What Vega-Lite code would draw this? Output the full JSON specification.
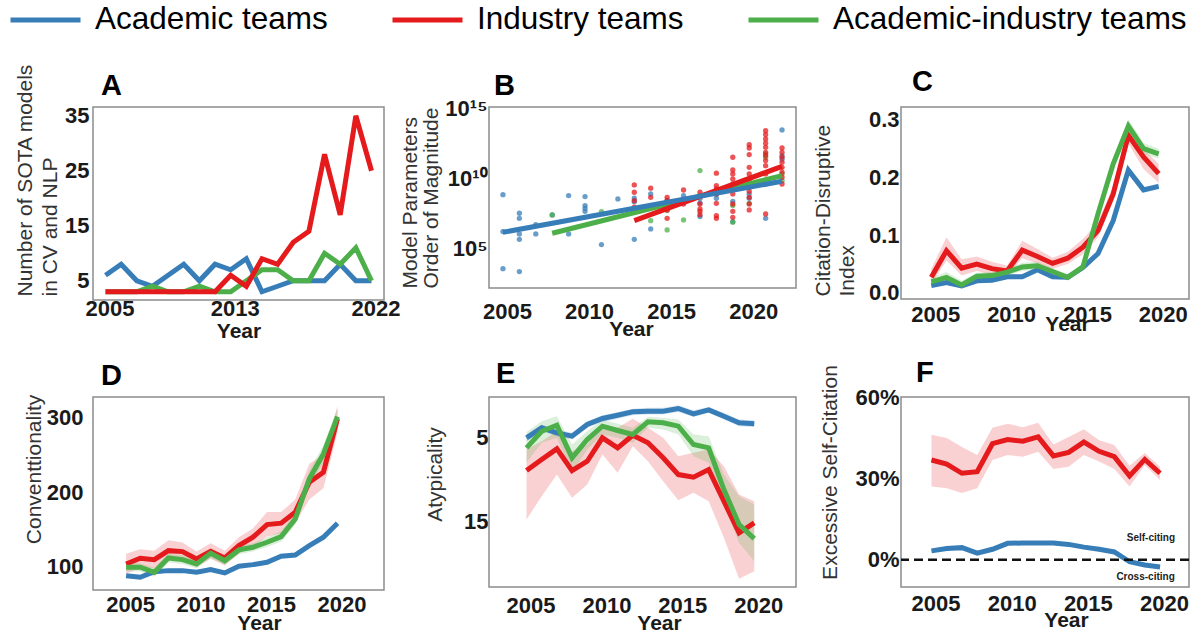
{
"$schema": "https://vega.github.io/schema/vega-lite/v6.json",
"padding": {"left": 8, "top": 0, "right": 2, "bottom": 2},
"background": "white",
"datasets": {
"A": [
{"team":"Academic teams","year":2005,"v":6},{"team":"Academic teams","year":2006,"v":8},{"team":"Academic teams","year":2007,"v":5},{"team":"Academic teams","year":2008,"v":4},{"team":"Academic teams","year":2009,"v":6},{"team":"Academic teams","year":2010,"v":8},{"team":"Academic teams","year":2011,"v":5},{"team":"Academic teams","year":2012,"v":8},{"team":"Academic teams","year":2013,"v":7},{"team":"Academic teams","year":2014,"v":9},{"team":"Academic teams","year":2015,"v":3},{"team":"Academic teams","year":2016,"v":4},{"team":"Academic teams","year":2017,"v":5},{"team":"Academic teams","year":2018,"v":5},{"team":"Academic teams","year":2019,"v":5},{"team":"Academic teams","year":2020,"v":8},{"team":"Academic teams","year":2021,"v":5},{"team":"Academic teams","year":2022,"v":5},
{"team":"Academic-industry teams","year":2005,"v":3},{"team":"Academic-industry teams","year":2006,"v":3},{"team":"Academic-industry teams","year":2007,"v":3},{"team":"Academic-industry teams","year":2008,"v":4},{"team":"Academic-industry teams","year":2009,"v":3},{"team":"Academic-industry teams","year":2010,"v":3},{"team":"Academic-industry teams","year":2011,"v":4},{"team":"Academic-industry teams","year":2012,"v":3},{"team":"Academic-industry teams","year":2013,"v":3},{"team":"Academic-industry teams","year":2014,"v":5},{"team":"Academic-industry teams","year":2015,"v":7},{"team":"Academic-industry teams","year":2016,"v":7},{"team":"Academic-industry teams","year":2017,"v":5},{"team":"Academic-industry teams","year":2018,"v":5},{"team":"Academic-industry teams","year":2019,"v":10},{"team":"Academic-industry teams","year":2020,"v":8},{"team":"Academic-industry teams","year":2021,"v":11},{"team":"Academic-industry teams","year":2022,"v":5},
{"team":"Industry teams","year":2005,"v":3},{"team":"Industry teams","year":2006,"v":3},{"team":"Industry teams","year":2007,"v":3},{"team":"Industry teams","year":2008,"v":3},{"team":"Industry teams","year":2009,"v":3},{"team":"Industry teams","year":2010,"v":3},{"team":"Industry teams","year":2011,"v":3},{"team":"Industry teams","year":2012,"v":3},{"team":"Industry teams","year":2013,"v":6},{"team":"Industry teams","year":2014,"v":4},{"team":"Industry teams","year":2015,"v":9},{"team":"Industry teams","year":2016,"v":8},{"team":"Industry teams","year":2017,"v":12},{"team":"Industry teams","year":2018,"v":14},{"team":"Industry teams","year":2019,"v":28},{"team":"Industry teams","year":2020,"v":17},{"team":"Industry teams","year":2021,"v":35},{"team":"Industry teams","year":2022,"v":25}
],
"Bpts": [
{"team":"Academic teams","year":2005,"e":8.88},{"team":"Academic teams","year":2005,"e":6.24},{"team":"Academic teams","year":2005,"e":3.59},
{"team":"Academic teams","year":2006,"e":7.55},{"team":"Academic teams","year":2006,"e":7.19},{"team":"Academic teams","year":2006,"e":6.07},{"team":"Academic teams","year":2006,"e":5.69},{"team":"Academic teams","year":2006,"e":3.38},
{"team":"Academic teams","year":2007,"e":6.74},{"team":"Academic teams","year":2007,"e":6.07},
{"team":"Academic teams","year":2008,"e":7.43},
{"team":"Academic teams","year":2009,"e":8.81},{"team":"Academic teams","year":2009,"e":6.07},
{"team":"Academic teams","year":2010,"e":8.74},{"team":"Academic teams","year":2010,"e":8.1},{"team":"Academic teams","year":2010,"e":7.9},{"team":"Academic teams","year":2010,"e":7.69},
{"team":"Academic teams","year":2011,"e":5.31},
{"team":"Academic teams","year":2012,"e":8.57},
{"team":"Academic teams","year":2013,"e":8.62},{"team":"Academic teams","year":2013,"e":8.38},{"team":"Academic teams","year":2013,"e":5.69},
{"team":"Academic teams","year":2014,"e":8.93},{"team":"Academic teams","year":2014,"e":6.43},
{"team":"Academic teams","year":2015,"e":8.45},
{"team":"Academic teams","year":2016,"e":8.81},
{"team":"Academic teams","year":2017,"e":8.62},{"team":"Academic teams","year":2017,"e":8.29},{"team":"Academic teams","year":2017,"e":7.31},
{"team":"Academic teams","year":2018,"e":8.93},{"team":"Academic teams","year":2018,"e":8.62},
{"team":"Academic teams","year":2019,"e":8.4},{"team":"Academic teams","year":2019,"e":6.95},
{"team":"Academic teams","year":2020,"e":8.93},{"team":"Academic teams","year":2020,"e":8.62},
{"team":"Academic teams","year":2021,"e":7.19},
{"team":"Academic teams","year":2022,"e":13.5},{"team":"Academic teams","year":2022,"e":11.66},{"team":"Academic teams","year":2022,"e":11.4},
{"team":"Academic-industry teams","year":2008,"e":7.43},{"team":"Academic-industry teams","year":2011,"e":7.66},{"team":"Academic-industry teams","year":2014,"e":7.02},{"team":"Academic-industry teams","year":2015,"e":7.74},{"team":"Academic-industry teams","year":2015,"e":6.36},{"team":"Academic-industry teams","year":2016,"e":7.07},{"team":"Academic-industry teams","year":2017,"e":10.6},{"team":"Academic-industry teams","year":2019,"e":8.1},{"team":"Academic-industry teams","year":2019,"e":6.91},{"team":"Academic-industry teams","year":2020,"e":8.26},{"team":"Academic-industry teams","year":2021,"e":11.79},{"team":"Academic-industry teams","year":2021,"e":11.55},{"team":"Academic-industry teams","year":2022,"e":10.36},{"team":"Academic-industry teams","year":2022,"e":9.88},
{"team":"Industry teams","year":2013,"e":9.57},{"team":"Industry teams","year":2013,"e":9.05},{"team":"Industry teams","year":2013,"e":8.45},{"team":"Industry teams","year":2013,"e":7.98},
{"team":"Industry teams","year":2014,"e":9.34},{"team":"Industry teams","year":2014,"e":8.69},
{"team":"Industry teams","year":2015,"e":8.69},{"team":"Industry teams","year":2015,"e":8.45},{"team":"Industry teams","year":2015,"e":8.1},{"team":"Industry teams","year":2015,"e":7.79},{"team":"Industry teams","year":2015,"e":7.19},
{"team":"Industry teams","year":2016,"e":9.21},{"team":"Industry teams","year":2016,"e":8.21},
{"team":"Industry teams","year":2017,"e":9.05},{"team":"Industry teams","year":2017,"e":8.81},{"team":"Industry teams","year":2017,"e":8.21},{"team":"Industry teams","year":2017,"e":7.86},{"team":"Industry teams","year":2017,"e":7.69},{"team":"Industry teams","year":2017,"e":7.45},
{"team":"Industry teams","year":2018,"e":10.41},{"team":"Industry teams","year":2018,"e":9.52},{"team":"Industry teams","year":2018,"e":9.29},{"team":"Industry teams","year":2018,"e":8.93},{"team":"Industry teams","year":2018,"e":8.26},{"team":"Industry teams","year":2018,"e":7.38},{"team":"Industry teams","year":2018,"e":7.19},
{"team":"Industry teams","year":2019,"e":11.55},{"team":"Industry teams","year":2019,"e":10.64},{"team":"Industry teams","year":2019,"e":10.36},{"team":"Industry teams","year":2019,"e":10.0},{"team":"Industry teams","year":2019,"e":9.64},{"team":"Industry teams","year":2019,"e":9.29},{"team":"Industry teams","year":2019,"e":8.93},{"team":"Industry teams","year":2019,"e":8.21},{"team":"Industry teams","year":2019,"e":7.69},{"team":"Industry teams","year":2019,"e":7.26},
{"team":"Industry teams","year":2020,"e":12.45},{"team":"Industry teams","year":2020,"e":12.21},{"team":"Industry teams","year":2020,"e":11.74},{"team":"Industry teams","year":2020,"e":10.83},{"team":"Industry teams","year":2020,"e":10.36},{"team":"Industry teams","year":2020,"e":9.88},{"team":"Industry teams","year":2020,"e":9.4},{"team":"Industry teams","year":2020,"e":9.12},{"team":"Industry teams","year":2020,"e":8.69},{"team":"Industry teams","year":2020,"e":8.21},{"team":"Industry teams","year":2020,"e":7.79},
{"team":"Industry teams","year":2021,"e":13.45},{"team":"Industry teams","year":2021,"e":13.17},{"team":"Industry teams","year":2021,"e":12.86},{"team":"Industry teams","year":2021,"e":12.55},{"team":"Industry teams","year":2021,"e":12.26},{"team":"Industry teams","year":2021,"e":11.9},{"team":"Industry teams","year":2021,"e":11.67},{"team":"Industry teams","year":2021,"e":11.31},{"team":"Industry teams","year":2021,"e":10.95},{"team":"Industry teams","year":2021,"e":10.36},{"team":"Industry teams","year":2021,"e":9.64},{"team":"Industry teams","year":2021,"e":7.5},
{"team":"Industry teams","year":2022,"e":12.21},{"team":"Industry teams","year":2022,"e":11.9},{"team":"Industry teams","year":2022,"e":11.55},{"team":"Industry teams","year":2022,"e":11.19},{"team":"Industry teams","year":2022,"e":10.83},{"team":"Industry teams","year":2022,"e":10.48},{"team":"Industry teams","year":2022,"e":10.12},{"team":"Industry teams","year":2022,"e":9.64}
],
"Bfit": [
{"team":"Academic-industry teams","year":2008,"e":6.12},{"team":"Academic-industry teams","year":2022,"e":10.24},
{"team":"Industry teams","year":2013,"e":7.02},{"team":"Industry teams","year":2022,"e":10.9},
{"team":"Academic teams","year":2005,"e":6.19},{"team":"Academic teams","year":2022,"e":9.84}
],
"C": [
{"team":"Academic teams","year":2005,"v":0.013,"lo":0.009,"hi":0.017},{"team":"Academic teams","year":2006,"v":0.018,"lo":0.014,"hi":0.022},{"team":"Academic teams","year":2007,"v":0.012,"lo":0.008,"hi":0.016},{"team":"Academic teams","year":2008,"v":0.021,"lo":0.017,"hi":0.025},{"team":"Academic teams","year":2009,"v":0.022,"lo":0.018,"hi":0.026},{"team":"Academic teams","year":2010,"v":0.028,"lo":0.024,"hi":0.032},{"team":"Academic teams","year":2011,"v":0.028,"lo":0.024,"hi":0.032},{"team":"Academic teams","year":2012,"v":0.04,"lo":0.036,"hi":0.044},{"team":"Academic teams","year":2013,"v":0.028,"lo":0.024,"hi":0.032},{"team":"Academic teams","year":2014,"v":0.027,"lo":0.023,"hi":0.031},{"team":"Academic teams","year":2015,"v":0.044,"lo":0.04,"hi":0.048},{"team":"Academic teams","year":2016,"v":0.068,"lo":0.064,"hi":0.072},{"team":"Academic teams","year":2017,"v":0.125,"lo":0.12,"hi":0.13},{"team":"Academic teams","year":2018,"v":0.212,"lo":0.206,"hi":0.218},{"team":"Academic teams","year":2019,"v":0.178,"lo":0.173,"hi":0.183},{"team":"Academic teams","year":2020,"v":0.184,"lo":0.179,"hi":0.189},
{"team":"Industry teams","year":2005,"v":0.027,"lo":0.015,"hi":0.042},{"team":"Industry teams","year":2006,"v":0.073,"lo":0.056,"hi":0.096},{"team":"Industry teams","year":2007,"v":0.043,"lo":0.03,"hi":0.058},{"team":"Industry teams","year":2008,"v":0.05,"lo":0.038,"hi":0.063},{"team":"Industry teams","year":2009,"v":0.042,"lo":0.032,"hi":0.054},{"team":"Industry teams","year":2010,"v":0.038,"lo":0.029,"hi":0.047},{"team":"Industry teams","year":2011,"v":0.074,"lo":0.06,"hi":0.09},{"team":"Industry teams","year":2012,"v":0.063,"lo":0.051,"hi":0.076},{"team":"Industry teams","year":2013,"v":0.051,"lo":0.042,"hi":0.061},{"team":"Industry teams","year":2014,"v":0.06,"lo":0.05,"hi":0.071},{"team":"Industry teams","year":2015,"v":0.079,"lo":0.067,"hi":0.093},{"team":"Industry teams","year":2016,"v":0.108,"lo":0.096,"hi":0.122},{"team":"Industry teams","year":2017,"v":0.171,"lo":0.158,"hi":0.185},{"team":"Industry teams","year":2018,"v":0.272,"lo":0.258,"hi":0.287},{"team":"Industry teams","year":2019,"v":0.235,"lo":0.214,"hi":0.248},{"team":"Industry teams","year":2020,"v":0.206,"lo":0.19,"hi":0.223},
{"team":"Academic-industry teams","year":2005,"v":0.019,"lo":0.012,"hi":0.027},{"team":"Academic-industry teams","year":2006,"v":0.027,"lo":0.019,"hi":0.036},{"team":"Academic-industry teams","year":2007,"v":0.014,"lo":0.008,"hi":0.021},{"team":"Academic-industry teams","year":2008,"v":0.029,"lo":0.023,"hi":0.035},{"team":"Academic-industry teams","year":2009,"v":0.03,"lo":0.024,"hi":0.036},{"team":"Academic-industry teams","year":2010,"v":0.036,"lo":0.03,"hi":0.042},{"team":"Academic-industry teams","year":2011,"v":0.045,"lo":0.038,"hi":0.052},{"team":"Academic-industry teams","year":2012,"v":0.047,"lo":0.04,"hi":0.054},{"team":"Academic-industry teams","year":2013,"v":0.037,"lo":0.031,"hi":0.043},{"team":"Academic-industry teams","year":2014,"v":0.027,"lo":0.022,"hi":0.032},{"team":"Academic-industry teams","year":2015,"v":0.045,"lo":0.039,"hi":0.051},{"team":"Academic-industry teams","year":2016,"v":0.137,"lo":0.129,"hi":0.145},{"team":"Academic-industry teams","year":2017,"v":0.223,"lo":0.213,"hi":0.233},{"team":"Academic-industry teams","year":2018,"v":0.288,"lo":0.276,"hi":0.3},{"team":"Academic-industry teams","year":2019,"v":0.249,"lo":0.24,"hi":0.259},{"team":"Academic-industry teams","year":2020,"v":0.24,"lo":0.232,"hi":0.249}
],
"D": [
{"team":"Academic teams","year":2005,"v":87.3,"lo":84.8,"hi":89.8},{"team":"Academic teams","year":2006,"v":85.2,"lo":82.7,"hi":87.7},{"team":"Academic teams","year":2007,"v":92.7,"lo":90.2,"hi":95.2},{"team":"Academic teams","year":2008,"v":94.1,"lo":91.6,"hi":96.6},{"team":"Academic teams","year":2009,"v":94.1,"lo":91.6,"hi":96.6},{"team":"Academic teams","year":2010,"v":91.9,"lo":89.4,"hi":94.4},{"team":"Academic teams","year":2011,"v":95.4,"lo":92.9,"hi":97.9},{"team":"Academic teams","year":2012,"v":91.0,"lo":88.5,"hi":93.5},{"team":"Academic teams","year":2013,"v":100,"lo":97.5,"hi":102.5},{"team":"Academic teams","year":2014,"v":102.2,"lo":99.7,"hi":104.7},{"team":"Academic teams","year":2015,"v":105.4,"lo":102.9,"hi":107.9},{"team":"Academic teams","year":2016,"v":113.5,"lo":111,"hi":116},{"team":"Academic teams","year":2017,"v":115.2,"lo":112.7,"hi":117.7},{"team":"Academic teams","year":2018,"v":127.8,"lo":125.3,"hi":130.3},{"team":"Academic teams","year":2019,"v":139.1,"lo":136.6,"hi":141.6},{"team":"Academic teams","year":2020,"v":158,"lo":155.5,"hi":160.5},
{"team":"Industry teams","year":2005,"v":103.1,"lo":90,"hi":117},{"team":"Industry teams","year":2006,"v":110.8,"lo":98,"hi":123},{"team":"Industry teams","year":2007,"v":108.9,"lo":97,"hi":121},{"team":"Industry teams","year":2008,"v":121,"lo":108,"hi":135},{"team":"Industry teams","year":2009,"v":119.7,"lo":107,"hi":132},{"team":"Industry teams","year":2010,"v":109.8,"lo":99,"hi":120},{"team":"Industry teams","year":2011,"v":120.2,"lo":110,"hi":131},{"team":"Industry teams","year":2012,"v":111.2,"lo":101,"hi":121},{"team":"Industry teams","year":2013,"v":127.8,"lo":117,"hi":139},{"team":"Industry teams","year":2014,"v":139.1,"lo":127,"hi":151},{"team":"Industry teams","year":2015,"v":156.1,"lo":140,"hi":173},{"team":"Industry teams","year":2016,"v":158,"lo":144,"hi":173},{"team":"Industry teams","year":2017,"v":172.8,"lo":158,"hi":190},{"team":"Industry teams","year":2018,"v":213.2,"lo":190,"hi":238},{"team":"Industry teams","year":2019,"v":226.7,"lo":205,"hi":250},{"team":"Industry teams","year":2020,"v":298.5,"lo":280,"hi":316},
{"team":"Academic-industry teams","year":2005,"v":98.7,"lo":93,"hi":105},{"team":"Academic-industry teams","year":2006,"v":98.7,"lo":93,"hi":104},{"team":"Academic-industry teams","year":2007,"v":91.9,"lo":86,"hi":98},{"team":"Academic-industry teams","year":2008,"v":111.2,"lo":105,"hi":117},{"team":"Academic-industry teams","year":2009,"v":108.9,"lo":103,"hi":115},{"team":"Academic-industry teams","year":2010,"v":103.1,"lo":97,"hi":109},{"team":"Academic-industry teams","year":2011,"v":117.5,"lo":111,"hi":124},{"team":"Academic-industry teams","year":2012,"v":107.5,"lo":102,"hi":113},{"team":"Academic-industry teams","year":2013,"v":122,"lo":116,"hi":128},{"team":"Academic-industry teams","year":2014,"v":125.6,"lo":120,"hi":131},{"team":"Academic-industry teams","year":2015,"v":132.3,"lo":126,"hi":139},{"team":"Academic-industry teams","year":2016,"v":139.9,"lo":133,"hi":147},{"team":"Academic-industry teams","year":2017,"v":163.7,"lo":156,"hi":172},{"team":"Academic-industry teams","year":2018,"v":217.7,"lo":207,"hi":229},{"team":"Academic-industry teams","year":2019,"v":251.3,"lo":240,"hi":263},{"team":"Academic-industry teams","year":2020,"v":301.6,"lo":290,"hi":313}
],
"E": [
{"team":"Academic teams","year":2005,"v":5.0,"lo":4.6,"hi":5.4},{"team":"Academic teams","year":2006,"v":3.8,"lo":3.4,"hi":4.2},{"team":"Academic teams","year":2007,"v":4.4,"lo":4.0,"hi":4.8},{"team":"Academic teams","year":2008,"v":4.8,"lo":4.4,"hi":5.2},{"team":"Academic teams","year":2009,"v":3.4,"lo":3.0,"hi":3.8},{"team":"Academic teams","year":2010,"v":2.68,"lo":2.3,"hi":3.1},{"team":"Academic teams","year":2011,"v":2.29,"lo":1.9,"hi":2.7},{"team":"Academic teams","year":2012,"v":1.88,"lo":1.5,"hi":2.3},{"team":"Academic teams","year":2013,"v":1.8,"lo":1.4,"hi":2.2},{"team":"Academic teams","year":2014,"v":1.8,"lo":1.4,"hi":2.2},{"team":"Academic teams","year":2015,"v":1.48,"lo":1.1,"hi":1.9},{"team":"Academic teams","year":2016,"v":2.12,"lo":1.7,"hi":2.5},{"team":"Academic teams","year":2017,"v":1.64,"lo":1.3,"hi":2.0},{"team":"Academic teams","year":2018,"v":2.41,"lo":2.0,"hi":2.8},{"team":"Academic teams","year":2019,"v":3.2,"lo":2.8,"hi":3.6},{"team":"Academic teams","year":2020,"v":3.32,"lo":2.9,"hi":3.7},
{"team":"Industry teams","year":2005,"v":8.93,"lo":6.4,"hi":14.8},{"team":"Industry teams","year":2006,"v":7.6,"lo":5.4,"hi":12.0},{"team":"Industry teams","year":2007,"v":6.32,"lo":4.2,"hi":9.4},{"team":"Industry teams","year":2008,"v":8.93,"lo":6.6,"hi":12.2},{"team":"Industry teams","year":2009,"v":7.81,"lo":5.8,"hi":10.6},{"team":"Industry teams","year":2010,"v":5.0,"lo":3.4,"hi":7.0},{"team":"Industry teams","year":2011,"v":6.2,"lo":3.8,"hi":9.2},{"team":"Industry teams","year":2012,"v":4.69,"lo":2.7,"hi":6.0},{"team":"Industry teams","year":2013,"v":5.6,"lo":3.8,"hi":7.8},{"team":"Industry teams","year":2014,"v":7.4,"lo":5.0,"hi":10.2},{"team":"Industry teams","year":2015,"v":9.41,"lo":7.2,"hi":12.5},{"team":"Industry teams","year":2016,"v":9.73,"lo":6.8,"hi":11.6},{"team":"Industry teams","year":2017,"v":8.81,"lo":6.4,"hi":12.6},{"team":"Industry teams","year":2018,"v":12.61,"lo":8.4,"hi":17.0},{"team":"Industry teams","year":2019,"v":16.4,"lo":11.8,"hi":21.9},{"team":"Industry teams","year":2020,"v":15.2,"lo":12.6,"hi":21.0},
{"team":"Academic-industry teams","year":2005,"v":6.2,"lo":4.3,"hi":8.0},{"team":"Academic-industry teams","year":2006,"v":4.21,"lo":3.0,"hi":5.6},{"team":"Academic-industry teams","year":2007,"v":3.49,"lo":2.4,"hi":5.0},{"team":"Academic-industry teams","year":2008,"v":7.4,"lo":5.8,"hi":9.2},{"team":"Academic-industry teams","year":2009,"v":5.2,"lo":4.2,"hi":6.4},{"team":"Academic-industry teams","year":2010,"v":3.6,"lo":2.8,"hi":4.6},{"team":"Academic-industry teams","year":2011,"v":4.12,"lo":3.3,"hi":5.0},{"team":"Academic-industry teams","year":2012,"v":4.6,"lo":3.8,"hi":5.6},{"team":"Academic-industry teams","year":2013,"v":3.08,"lo":2.5,"hi":3.8},{"team":"Academic-industry teams","year":2014,"v":3.2,"lo":2.6,"hi":4.0},{"team":"Academic-industry teams","year":2015,"v":3.6,"lo":2.8,"hi":4.6},{"team":"Academic-industry teams","year":2016,"v":5.8,"lo":4.6,"hi":7.2},{"team":"Academic-industry teams","year":2017,"v":6.2,"lo":4.8,"hi":8.0},{"team":"Academic-industry teams","year":2018,"v":11.2,"lo":9.4,"hi":13.0},{"team":"Academic-industry teams","year":2019,"v":15.4,"lo":12.0,"hi":17.6},{"team":"Academic-industry teams","year":2020,"v":17.1,"lo":13.0,"hi":19.8}
],
"F": [
{"team":"Academic teams","year":2005,"v":0.033,"lo":0.027,"hi":0.039},{"team":"Academic teams","year":2006,"v":0.042,"lo":0.036,"hi":0.048},{"team":"Academic teams","year":2007,"v":0.045,"lo":0.039,"hi":0.051},{"team":"Academic teams","year":2008,"v":0.025,"lo":0.019,"hi":0.031},{"team":"Academic teams","year":2009,"v":0.039,"lo":0.033,"hi":0.045},{"team":"Academic teams","year":2010,"v":0.061,"lo":0.055,"hi":0.067},{"team":"Academic teams","year":2011,"v":0.062,"lo":0.056,"hi":0.068},{"team":"Academic teams","year":2012,"v":0.062,"lo":0.056,"hi":0.068},{"team":"Academic teams","year":2013,"v":0.062,"lo":0.056,"hi":0.068},{"team":"Academic teams","year":2014,"v":0.057,"lo":0.051,"hi":0.063},{"team":"Academic teams","year":2015,"v":0.047,"lo":0.041,"hi":0.053},{"team":"Academic teams","year":2016,"v":0.039,"lo":0.033,"hi":0.045},{"team":"Academic teams","year":2017,"v":0.029,"lo":0.023,"hi":0.035},{"team":"Academic teams","year":2018,"v":-0.007,"lo":-0.013,"hi":-0.001},{"team":"Academic teams","year":2019,"v":-0.019,"lo":-0.025,"hi":-0.013},{"team":"Academic teams","year":2020,"v":-0.026,"lo":-0.032,"hi":-0.02},
{"team":"Industry teams","year":2005,"v":0.368,"lo":0.27,"hi":0.461},{"team":"Industry teams","year":2006,"v":0.353,"lo":0.264,"hi":0.449},{"team":"Industry teams","year":2007,"v":0.319,"lo":0.246,"hi":0.416},{"team":"Industry teams","year":2008,"v":0.325,"lo":0.264,"hi":0.386},{"team":"Industry teams","year":2009,"v":0.428,"lo":0.368,"hi":0.487},{"team":"Industry teams","year":2010,"v":0.443,"lo":0.386,"hi":0.501},{"team":"Industry teams","year":2011,"v":0.437,"lo":0.38,"hi":0.489},{"team":"Industry teams","year":2012,"v":0.453,"lo":0.398,"hi":0.505},{"team":"Industry teams","year":2013,"v":0.383,"lo":0.335,"hi":0.425},{"team":"Industry teams","year":2014,"v":0.396,"lo":0.343,"hi":0.453},{"team":"Industry teams","year":2015,"v":0.434,"lo":0.386,"hi":0.481},{"team":"Industry teams","year":2016,"v":0.4,"lo":0.362,"hi":0.441},{"team":"Industry teams","year":2017,"v":0.38,"lo":0.335,"hi":0.423},{"team":"Industry teams","year":2018,"v":0.309,"lo":0.27,"hi":0.347},{"team":"Industry teams","year":2019,"v":0.37,"lo":0.349,"hi":0.394},{"team":"Industry teams","year":2020,"v":0.319,"lo":0.294,"hi":0.343}
],
"Flab": [
{"label":"Self-citing","year":2019.4,"v":0.079},
{"label":"Cross-citing","year":2019.05,"v":-0.064}
]
},
"columns": 3,
"spacing": {"row": 97, "column": 105},
"align": "each",
"bounds": "flush",
"concat": [
{
"width": 291, "height": 193,
"title": {"text": "A", "offset": -38, "dx": 8},
"data": {"name": "A"},
"mark": {"type": "line", "strokeWidth": 5},
"encoding": {
"x": {"field": "year", "type": "quantitative", "scale": {"domain": [2004.2, 2022.8], "nice": false, "zero": false}, "axis": {"values": [2005, 2013, 2022], "format": "d", "title": "Year", "labelPadding": -2, "titlePadding": 1}},
"y": {"field": "v", "type": "quantitative", "scale": {"domain": [1.5, 36.6], "nice": false, "zero": false}, "axis": {"values": [5, 15, 25, 35], "title": ["Number of SOTA models", "in CV and NLP"], "titleLineHeight": 25, "titleAlign": "left", "titleY": 189, "titlePadding": 4, "labelPadding": 4}},
"color": {"field": "team", "type": "nominal", "scale": {"domain": ["Academic teams", "Industry teams", "Academic-industry teams"], "range": ["#377eb8", "#e41a1c", "#4daf4a"]},
"legend": {"title": null, "orient": "none", "legendX": -85, "legendY": -107, "direction": "horizontal", "symbolType": "stroke", "symbolSize": 4900, "symbolStrokeWidth": 5, "clipHeight": 40, "labelFont": "Liberation Sans, sans-serif", "labelFontSize": 31.5, "labelColor": "#000000", "labelOffset": 12, "columnPadding": 62, "labelLimit": 0, "padding": 0}}
}
},
{
"width": 307, "height": 181,
"title": {"text": "B", "offset": -3, "dx": 5},
"layer": [
{"data": {"name": "Bpts"}, "mark": {"type": "circle", "size": 28, "opacity": 0.75},
"encoding": {
"x": {"field": "year", "type": "quantitative", "title": "Year", "scale": {"domain": [2004.15, 2022.85], "nice": false, "zero": false}, "axis": {"values": [2005, 2010, 2015, 2020], "format": "d", "labelPadding": 13, "titlePadding": -4, "titleX": 142}},
"y": {"field": "e", "type": "quantitative", "title": ["Model Parameters", "Order of Magnitude"], "scale": {"domain": [2.21, 15.14], "nice": false, "zero": false}, "axis": {"values": [5, 10, 15], "labelExpr": "datum.value == 5 ? '10⁵' : datum.value == 10 ? '10¹⁰' : '10¹⁵'", "titleLineHeight": 21, "titleAlign": "left", "titleY": 181, "titlePadding": 3, "labelPadding": 2}},
"color": {"field": "team", "type": "nominal", "scale": {"domain": ["Academic teams", "Industry teams", "Academic-industry teams"], "range": ["#377eb8", "#e41a1c", "#4daf4a"]}, "legend": null}
}},
{"data": {"name": "Bfit"}, "mark": {"type": "line", "strokeWidth": 5},
"encoding": {
"x": {"field": "year", "type": "quantitative", "title": "Year", "scale": {"domain": [2004.15, 2022.85], "nice": false, "zero": false}},
"y": {"field": "e", "type": "quantitative", "title": ["Model Parameters", "Order of Magnitude"], "scale": {"domain": [2.21, 15.14], "nice": false, "zero": false}},
"color": {"field": "team", "type": "nominal", "scale": {"domain": ["Academic teams", "Industry teams", "Academic-industry teams"], "range": ["#377eb8", "#e41a1c", "#4daf4a"]}, "legend": null}
}}
]
},
{
"width": 288, "height": 192,
"title": {"text": "C", "offset": 10, "dx": 11},
"data": {"name": "C"},
"encoding": {
"x": {"field": "year", "type": "quantitative", "title": "Year", "scale": {"domain": [2003, 2022], "nice": false, "zero": false}, "axis": {"values": [2005, 2010, 2015, 2020], "format": "d", "labelPadding": 5, "titlePadding": -12, "titleX": 166}},
"color": {"field": "team", "type": "nominal", "scale": {"domain": ["Academic teams", "Industry teams", "Academic-industry teams"], "range": ["#377eb8", "#e41a1c", "#4daf4a"]}, "legend": null}
},
"layer": [
{"mark": {"type": "area", "opacity": 0.2},
"encoding": {
"y": {"field": "lo", "type": "quantitative", "title": ["Citation-Disruptive", "Index"], "scale": {"domain": [-0.0104, 0.321], "nice": false, "zero": false}, "axis": {"values": [0, 0.1, 0.2, 0.3], "format": ".1f", "titleLineHeight": 24, "titleAlign": "left", "titleY": 189, "titlePadding": 11, "labelPadding": 2}},
"y2": {"field": "hi"}
}},
{"mark": {"type": "line", "strokeWidth": 5},
"encoding": {
"y": {"field": "v", "type": "quantitative", "title": ["Citation-Disruptive", "Index"], "scale": {"domain": [-0.0104, 0.321], "nice": false, "zero": false}}
}}
]
},
{
"width": 291, "height": 193,
"title": {"text": "D", "offset": 3, "dx": 8},
"data": {"name": "D"},
"encoding": {
"x": {"field": "year", "type": "quantitative", "title": "Year", "scale": {"domain": [2002.65, 2023.3], "nice": false, "zero": false}, "axis": {"values": [2005, 2010, 2015, 2020], "format": "d", "labelPadding": 4, "titlePadding": -3, "titleX": 166}},
"color": {"field": "team", "type": "nominal", "scale": {"domain": ["Academic teams", "Industry teams", "Academic-industry teams"], "range": ["#377eb8", "#e41a1c", "#4daf4a"]}, "legend": null}
},
"layer": [
{"mark": {"type": "area", "opacity": 0.2},
"encoding": {
"y": {"field": "lo", "type": "quantitative", "title": "Conventtionality", "scale": {"domain": [68, 328], "nice": false, "zero": false}, "axis": {"values": [100, 200, 300], "titleY": 72, "titlePadding": 2, "labelPadding": 10}},
"y2": {"field": "hi"}
}},
{"mark": {"type": "line", "strokeWidth": 5},
"encoding": {
"y": {"field": "v", "type": "quantitative", "title": "Conventtionality", "scale": {"domain": [68, 328], "nice": false, "zero": false}}
}}
]
},
{
"width": 307, "height": 190,
"title": {"text": "E", "offset": 8, "dx": 7},
"data": {"name": "E"},
"encoding": {
"x": {"field": "year", "type": "quantitative", "title": "Year", "scale": {"domain": [2002.53, 2022.75], "nice": false, "zero": false}, "axis": {"values": [2005, 2010, 2015, 2020], "format": "d", "labelPadding": 8, "titlePadding": -4, "titleX": 170}},
"color": {"field": "team", "type": "nominal", "scale": {"domain": ["Academic teams", "Industry teams", "Academic-industry teams"], "range": ["#377eb8", "#e41a1c", "#4daf4a"]}, "legend": null}
},
"layer": [
{"mark": {"type": "area", "opacity": 0.2},
"encoding": {
"y": {"field": "lo", "type": "quantitative", "title": "Atypicality", "scale": {"domain": [0.1, 22.9], "reverse": true, "nice": false, "zero": false}, "axis": {"values": [5, 15], "titleY": 77, "titlePadding": 18, "labelPadding": 1}},
"y2": {"field": "hi"}
}},
{"mark": {"type": "line", "strokeWidth": 5},
"encoding": {
"y": {"field": "v", "type": "quantitative", "title": "Atypicality", "scale": {"domain": [0.1, 22.9], "reverse": true, "nice": false, "zero": false}}
}}
]
},
{
"width": 288, "height": 190,
"title": {"text": "F", "offset": -23, "dx": 15},
"layer": [
{"data": {"name": "F"}, "mark": {"type": "area", "opacity": 0.2},
"encoding": {
"x": {"field": "year", "type": "quantitative", "title": "Year", "scale": {"domain": [2003, 2021.9], "nice": false, "zero": false}, "axis": {"values": [2005, 2010, 2015, 2020], "format": "d", "labelPadding": 6, "titlePadding": -5, "titleX": 165}},
"y": {"field": "lo", "type": "quantitative", "title": "Excessive Self-Citation", "scale": {"domain": [-0.1, 0.6], "nice": false, "zero": false}, "axis": {"values": [0, 0.3, 0.6], "format": ".0%", "titleY": 75, "titlePadding": 14, "labelPadding": 2}},
"y2": {"field": "hi"},
"color": {"field": "team", "type": "nominal", "scale": {"domain": ["Academic teams", "Industry teams", "Academic-industry teams"], "range": ["#377eb8", "#e41a1c", "#4daf4a"]}, "legend": null}
}},
{"data": {"name": "F"}, "mark": {"type": "line", "strokeWidth": 5},
"encoding": {
"x": {"field": "year", "type": "quantitative", "title": "Year", "scale": {"domain": [2003, 2021.9], "nice": false, "zero": false}},
"y": {"field": "v", "type": "quantitative", "title": "Excessive Self-Citation", "scale": {"domain": [-0.1, 0.6], "nice": false, "zero": false}},
"color": {"field": "team", "type": "nominal", "scale": {"domain": ["Academic teams", "Industry teams", "Academic-industry teams"], "range": ["#377eb8", "#e41a1c", "#4daf4a"]}, "legend": null}
}},
{"data": {"values": [{}]}, "mark": {"type": "rule", "strokeDash": [9, 5], "strokeWidth": 2.5, "color": "#111111"},
"encoding": {"y": {"datum": 0, "type": "quantitative"}}},
{"data": {"name": "Flab"}, "mark": {"type": "text", "font": "Liberation Sans, sans-serif", "fontSize": 10, "fontWeight": "bold", "color": "#222222"},
"encoding": {
"x": {"field": "year", "type": "quantitative", "title": "Year", "scale": {"domain": [2003, 2021.9], "nice": false, "zero": false}},
"y": {"field": "v", "type": "quantitative", "title": "Excessive Self-Citation", "scale": {"domain": [-0.1, 0.6], "nice": false, "zero": false}},
"text": {"field": "label"}
}}
]
}
],
"config": {
"font": "Liberation Sans, sans-serif",
"view": {"stroke": "#8c8c8c", "strokeWidth": 1.5},
"axis": {"grid": false, "ticks": false, "domain": false, "labelFont": "Liberation Sans, sans-serif", "labelFontSize": 22, "labelFontWeight": "bold", "labelColor": "#1a1a1a", "labelFlush": false, "labelOverlap": false},
"axisX": {"titleFont": "Liberation Sans, sans-serif", "titleFontSize": 21, "titleFontWeight": "bold", "titleColor": "#1a1a1a", "labelOffset": 4},
"axisY": {"titleFont": "Liberation Sans, sans-serif", "titleFontSize": 21, "titleFontWeight": "normal", "titleColor": "#333333"},
"title": {"font": "Liberation Sans, sans-serif", "fontSize": 29, "fontWeight": "bold", "anchor": "start", "frame": "group", "color": "#000000", "baseline": "alphabetic"}
}
}
